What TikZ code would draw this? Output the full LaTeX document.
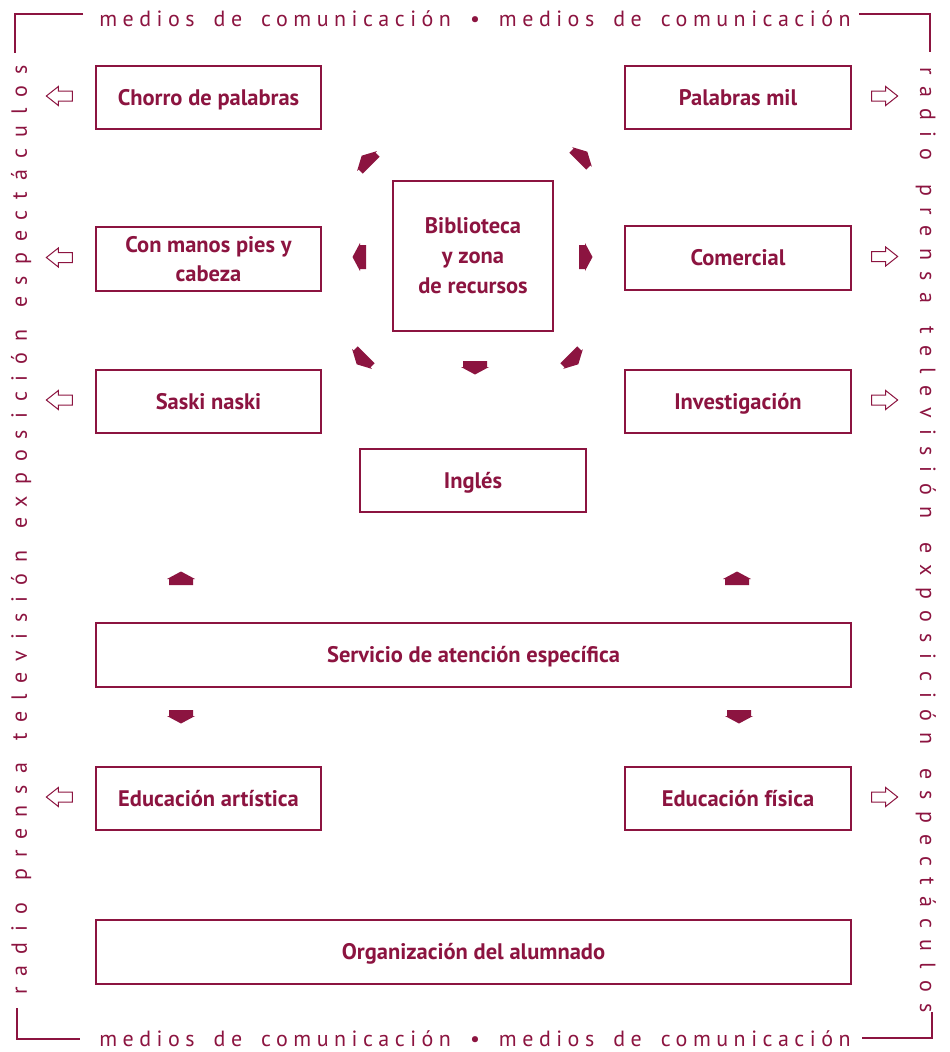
\documentclass[tikz,border=0pt]{standalone}
\usepackage{fontspec}
\setmainfont{PT Sans}
\usetikzlibrary{calc}
\definecolor{mar}{RGB}{140,20,64}
\newcommand{\tw}{\hspace{19pt}}
\newcommand{\swl}{\hspace{22pt}}
\newcommand{\swr}{\hspace{24pt}}
\begin{document}
\begin{tikzpicture}[x=1pt,y=-1pt,
  box/.style={draw=mar, line width=1.3pt, text=mar, align=center, inner sep=0pt,
    font=\bfseries\fontsize{22.5}{30}\selectfont},
  one/.style={text height=16pt, text depth=0.5pt},
  brdtext/.style={text=mar, inner sep=0pt, anchor=base,
    font=\fontsize{22}{24}\selectfont\addfontfeature{LetterSpace=25}},
  sidetextl/.style={text=mar, inner sep=0pt, anchor=base,
    font=\fontsize{22}{24}\selectfont\addfontfeature{LetterSpace=50}},
  sidetextr/.style={text=mar, inner sep=0pt, anchor=base,
    font=\fontsize{22}{24}\selectfont\addfontfeature{LetterSpace=51}},
  frame/.style={draw=mar, line width=1.2pt},
  hollow/.pic={\draw[mar, line width=1pt, line join=miter]
     (13,-5) -- (-1,-5) -- (-1,-9.5) -- (-13,0) -- (-1,9.5) -- (-1,5) -- (13,5) -- cycle;},
  blk/.pic={\fill[mar] (-6,-12) -- (0,-12) -- (0,-14) -- (7.5,0) -- (0,14) -- (0,12) -- (-6,12) -- cycle;}
]
\useasboundingbox (0,0) rectangle (950,1052);
\fill[white] (0,0) rectangle (950,1052);

% frame corners
\draw[frame] (83,14) -- (15,14) -- (15,53);
\draw[frame] (859,14) -- (930,14) -- (930,52);
\draw[frame] (17,1008) -- (17,1039) -- (80,1039);
\draw[frame] (932,1012) -- (932,1038) -- (862,1038);

% border texts
\node[brdtext] (toptext) at (475,26) {medios\tw de\tw comunicación\tw•\tw medios\tw de\tw comunicación};
\node[brdtext] (bottext) at (475,1046) {medios\tw de\tw comunicación\tw•\tw medios\tw de\tw comunicación};
\node[sidetextl, rotate=90] (lefttext) at (27,530) {radio\swl prensa\swl televisión\swl exposición\swl espectáculos};
\node[sidetextr, rotate=-90] (righttext) at (920,540) {radio\swr prensa\swr televisión\swr exposición\swr espectáculos};

% boxes
\node[box, one, minimum width=225, minimum height=63] (chorro) at (208.5,97.5) {Chorro de palabras};
\node[box, one, minimum width=226, minimum height=63] (palabras) at (738,97.5) {Palabras mil};
\node[box, minimum width=225, minimum height=64] (manos) at (208.5,259) {Con manos pies y\\[-1pt]cabeza};
\node[box, one, minimum width=226, minimum height=64] (comercial) at (738,258) {Comercial};
\node[box, minimum width=160, minimum height=150] (biblio) at (473,256) {Biblioteca\\y zona\\de recursos};
\node[box, one, minimum width=225, minimum height=63] (saski) at (208.5,401.5) {Saski naski};
\node[box, one, minimum width=226, minimum height=63] (invest) at (738,401.5) {Investigación};
\node[box, one, minimum width=226, minimum height=63] (ingles) at (473,480.5) {Inglés};
\node[box, one, minimum width=755, minimum height=64] (servicio) at (473.5,655) {Servicio de atención específica};
\node[box, one, minimum width=225, minimum height=63] (artistica) at (208.5,798.5) {Educación artística};
\node[box, one, minimum width=226, minimum height=63] (fisica) at (738,798.5) {Educación física};
\node[box, one, minimum width=755, minimum height=64] (organiz) at (473.5,952) {Organización del alumnado};

% hollow side arrows
\foreach \n in {chorro,manos,saski,artistica}
  \pic at ($(\n.west)+(-36,-1.5)$) {hollow};
\foreach \n in {palabras,comercial,invest,fisica}
  \pic[rotate=180] at ($(\n.east)+(33,-1.5)$) {hollow};

% filled arrows around the library
\pic[rotate=135] at (367,161) {blk};
\pic[rotate=45]  at (582,157) {blk};
\pic[rotate=180] at (360,257) {blk};
\pic[rotate=0]   at (585,257) {blk};
\pic[rotate=225] at (362,359) {blk};
\pic[rotate=315] at (573,359) {blk};
\pic[rotate=270] at (475,367) {blk};

% arrows around the service box
\pic[rotate=90]  at (181,579) {blk};
\pic[rotate=90]  at (737,579) {blk};
\pic[rotate=270] at (181,716) {blk};
\pic[rotate=270] at (739,716) {blk};
\end{tikzpicture}
\end{document}
